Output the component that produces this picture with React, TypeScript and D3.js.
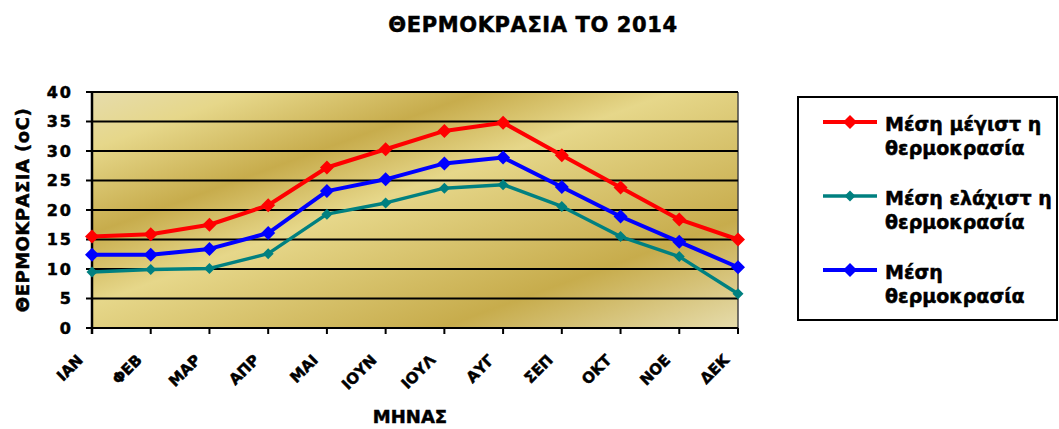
import React from "react";
import * as d3 from "d3";

const months = ["ΙΑΝ", "ΦΕΒ", "ΜΑΡ", "ΑΠΡ", "ΜΑΙ", "ΙΟΥΝ", "ΙΟΥΛ", "ΑΥΓ", "ΣΕΠ", "ΟΚΤ", "ΝΟΕ", "ΔΕΚ"];
const maxTemp = [15.5, 15.9, 17.5, 20.8, 27.2, 30.3, 33.4, 34.8, 29.3, 23.8, 18.4, 15.0];
const minTemp = [9.5, 9.9, 10.1, 12.6, 19.3, 21.2, 23.7, 24.3, 20.6, 15.5, 12.1, 5.8];
const meanTemp = [12.4, 12.4, 13.4, 16.1, 23.2, 25.2, 27.9, 28.9, 23.9, 18.9, 14.6, 10.3];
const yTicks = [0, 5, 10, 15, 20, 25, 30, 35, 40];

const seriesNames = [
  ["Μέση μέγιστ η", "θερμοκρασία"],
  ["Μέση ελάχιστ η", "θερμοκρασία"],
  ["Μέση", "θερμοκρασία"],
];

const W = 1059;
const H = 429;
const left = 92;
const right = 738;
const top = 92;
const bottom = 328;
const FONT = "'DejaVu Sans', Verdana, sans-serif";
const heavy = { stroke: "#000", strokeWidth: 0.5 };

export default function App() {
  const x = d3.scalePoint<string>().domain(months).range([left, right]).padding(0);
  const y = d3.scaleLinear().domain([0, 40]).range([bottom, top]);
  const line = d3
    .line<number>()
    .x((_, i) => x(months[i]) as number)
    .y((d) => y(d));

  const series = [
    { data: maxTemp, color: "#FF0000", r: 7, w: 4, name: seriesNames[0] },
    { data: minTemp, color: "#008080", r: 5.5, w: 3.5, name: seriesNames[1] },
    { data: meanTemp, color: "#0000FF", r: 7, w: 4, name: seriesNames[2] },
  ];
  const drawOrder = [series[1], series[2], series[0]];

  const diamond = (cx: number, cy: number, r: number) =>
    `M${cx},${cy - r}L${cx + r},${cy}L${cx},${cy + r}L${cx - r},${cy}Z`;

  const legendY = [122, 196, 270];

  return (
    <svg
      width={W}
      height={H}
      style={{ position: "absolute", left: 0, top: 0, display: "block", background: "#fff" }}
      fontFamily={FONT}
    >
      <defs>
        <linearGradient id="gold" x1="0" y1="0" x2="1" y2="1">
          <stop offset="0" stopColor="#E6DCAC" />
          <stop offset="0.12" stopColor="#E6D78A" />
          <stop offset="0.30" stopColor="#C7AC4C" />
          <stop offset="0.45" stopColor="#E6D78A" />
          <stop offset="0.77" stopColor="#C7AC4C" />
          <stop offset="1" stopColor="#E6DCAC" />
        </linearGradient>
      </defs>

      <text x={533} y={32} textAnchor="middle" fontSize={21} fontWeight="bold" letterSpacing={0.6} fill="#000" {...heavy}>
        ΘΕΡΜΟΚΡΑΣΙΑ  ΤΟ 2014
      </text>

      <rect x={left} y={top} width={right - left} height={bottom - top} fill="url(#gold)" />
      <line x1={right} x2={right} y1={top} y2={bottom} stroke="#444" strokeWidth={1.5} />

      {yTicks.map((t) => (
        <g key={t}>
          <line x1={left} x2={right} y1={y(t)} y2={y(t)} stroke="#000" strokeWidth={2} />
          <line x1={left - 6} x2={left} y1={y(t)} y2={y(t)} stroke="#000" strokeWidth={2} />
          <text
            x={73}
            y={y(t)}
            dy="0.36em"
            textAnchor="end"
            fontSize={16}
            fontWeight="bold"
            letterSpacing={2}
            fill="#000"
            {...heavy}
          >
            {t}
          </text>
        </g>
      ))}
      <line x1={left} x2={left} y1={top} y2={bottom + 6} stroke="#000" strokeWidth={2.5} />

      {months.map((m) => {
        const px = x(m) as number;
        return (
          <g key={m}>
            <line x1={px} x2={px} y1={bottom} y2={bottom + 6} stroke="#000" strokeWidth={2} />
            <text
              transform={`translate(${px - 8},${361}) rotate(-45)`}
              textAnchor="end"
              fontSize={15}
              fontWeight="bold"
              fill="#000"
              {...heavy}
            >
              {m}
            </text>
          </g>
        );
      })}

      {drawOrder.map((s, si) => (
        <g key={si}>
          <path d={line(s.data) || ""} fill="none" stroke={s.color} strokeWidth={s.w} strokeLinejoin="round" />
          {s.data.map((v, i) => (
            <path key={i} d={diamond(x(months[i]) as number, y(v), s.r)} fill={s.color} />
          ))}
        </g>
      ))}

      <text
        transform={`translate(29,${(top + bottom) / 2}) rotate(-90)`}
        textAnchor="middle"
        fontSize={18}
        fontWeight="bold"
        letterSpacing={0.5}
        fill="#000"
        {...heavy}
      >
        ΘΕΡΜΟΚΡΑΣΙΑ (oC)
      </text>

      <text x={410} y={423} textAnchor="middle" fontSize={18} fontWeight="bold" fill="#000" {...heavy}>
        ΜΗΝΑΣ
      </text>

      <rect x={798} y={97} width={259} height={223} fill="#fff" stroke="#000" strokeWidth={2} />
      {series.map((s, i) => (
        <g key={i}>
          <line x1={823} x2={877} y1={legendY[i]} y2={legendY[i]} stroke={s.color} strokeWidth={s.w} />
          <path d={diamond(850, legendY[i], s.r)} fill={s.color} />
          <text x={885} y={legendY[i] + 9} fontSize={19} fontWeight="bold" fill="#000" {...heavy}>
            {s.name[0]}
          </text>
          <text x={885} y={legendY[i] + 33} fontSize={19} fontWeight="bold" fill="#000" {...heavy}>
            {s.name[1]}
          </text>
        </g>
      ))}
    </svg>
  );
}
